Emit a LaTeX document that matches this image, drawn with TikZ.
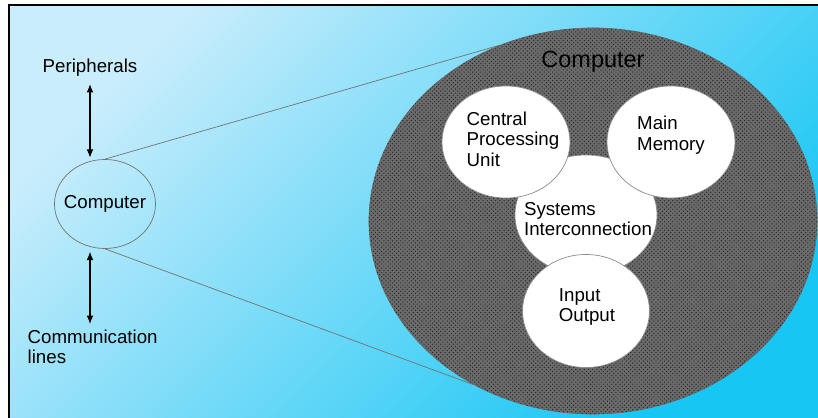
\documentclass[tikz,border=0pt]{standalone}
\usepackage{fontspec}
\setmainfont{Liberation Sans}
\usetikzlibrary{shapes.geometric,arrows.meta,patterns,positioning}

\definecolor{skylight}{RGB}{202,237,252}
\definecolor{skydeep}{RGB}{24,198,244}

\begin{document}
\begin{tikzpicture}[x=0.025cm,y=-0.025cm]
    \tikzstyle{txt} = [font=\fontsize{13.3}{14.5}\selectfont, align=left, inner sep=1pt]
    \tikzstyle{part} = [ellipse, draw=black!45, line width=0.5pt, fill=white, inner sep=0pt]
    \tikzstyle{link} = [draw=black!55, line width=0.5pt]
    \tikzstyle{dbl} = [{Latex[length=2.1mm,width=1.7mm]}-{Latex[length=2.1mm,width=1.7mm]}, line width=0.9pt]

    \useasboundingbox (0,0) rectangle (818,418);

    % Background and frame
    \shade[left color=skylight, right color=skydeep, shading angle=45] (9,5) rectangle (818,418);
    \draw[line width=1.4pt] (9,418) -- (9,5) -- (818,5);

    % Computer as a whole
    \node[ellipse, fill=black!58, draw=black!60, minimum width=11.2cm, minimum height=9.65cm,
          postaction={pattern=crosshatch dots, pattern color=black!85}] (big) at (593,221) {};
    \node[font=\fontsize{16.7}{18}\selectfont] (bigtitle) at (593,62) {Computer};

    % Its parts
    \node[part, minimum width=3.55cm, minimum height=3.0cm] (sys) at (586,215) {};
    \node[part, minimum width=3.2cm, minimum height=2.8cm] (cpu) at (506,142) {};
    \node[part, minimum width=3.2cm, minimum height=2.8cm] (mem) at (671,142) {};
    \node[part, minimum width=3.175cm, minimum height=2.825cm] (io) at (586,311) {};

    \node[txt] (cpu-t) at (513,139) {Central\\Processing\\Unit};
    \node[txt] (mem-t) at (671,135) {Main\\Memory};
    \node[txt] (sys-t) at (588,219) {Systems\\Interconnection};
    \node[txt] (io-t) at (587,307) {Input\\Output};

    % Left side
    \node[txt] (peri) at (90,68) {Peripherals};
    \node[ellipse, draw=black!55, line width=0.5pt, minimum width=2.525cm, minimum height=2.225cm] (comp) at (105,204) {};
    \node[txt] (comp-t) at (comp) {Computer};
    \node[txt, anchor=west] (comm) at (26,347) {Communication\\lines};

    \draw[dbl, shorten <=4pt, shorten >=1pt] (peri.south) -- (peri.south |- comp.north);
    \draw[dbl, shorten <=2pt, shorten >=3pt] (peri.south |- comp.south) -- (peri.south |- comm.north);

    % Zoom lines
    \draw[link] (comp.north) -- (big.118);
    \draw[link] (comp.south) -- (big.234);
\end{tikzpicture}
\end{document}
